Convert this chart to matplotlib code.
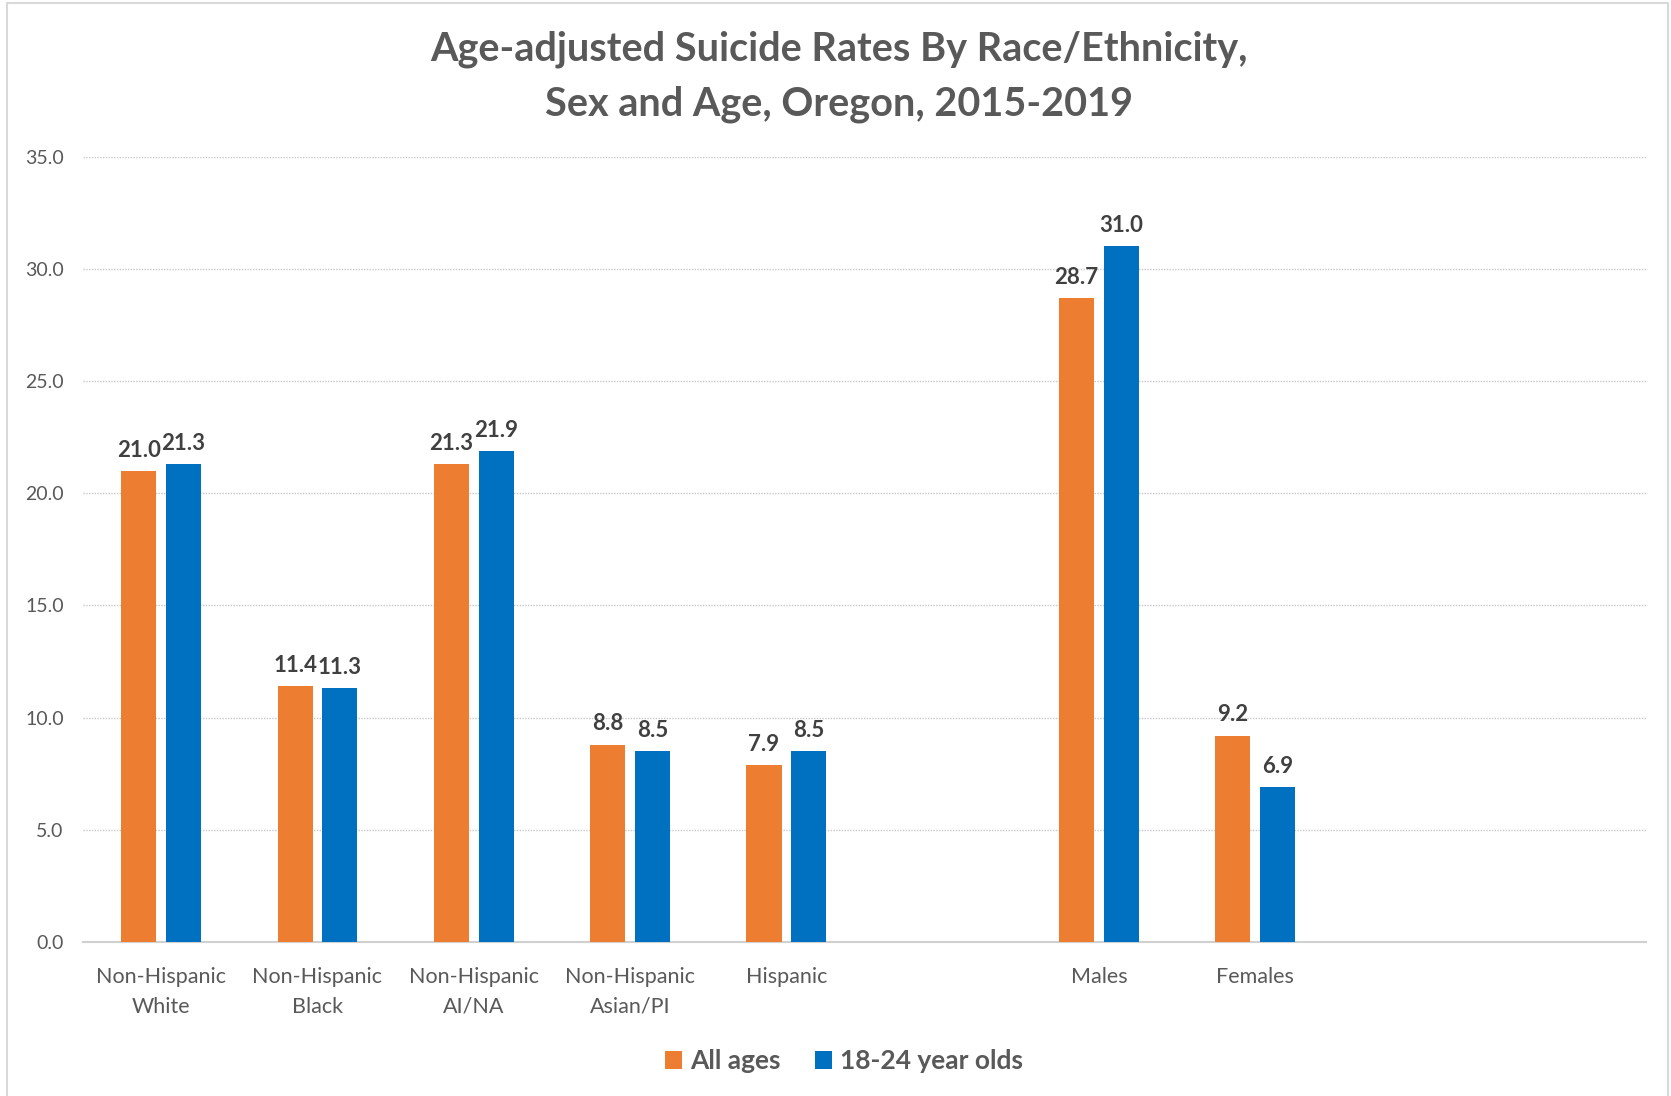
import numpy as np
import matplotlib.pyplot as plt
from matplotlib.patches import Rectangle

plt.rcParams['font.family'] = ['Lato', 'DejaVu Sans']

# categories (blank slots keep the gaps between the groups)
categories = ['Non-Hispanic\nWhite', 'Non-Hispanic\nBlack', 'Non-Hispanic\nAI/NA',
              'Non-Hispanic\nAsian/PI', 'Hispanic', '', 'Males', 'Females', '', '']
all_ages = [21.0, 11.4, 21.3, 8.8, 7.9, None, 28.7, 9.2, None, None]
young = [21.3, 11.3, 21.9, 8.5, 8.5, None, 31.0, 6.9, None, None]

orange = '#ed7d31'
blue = '#0070c0'
grey_txt = '#595959'

fig = plt.figure(figsize=(16.71, 10.96), dpi=100)
ax = fig.add_axes([0.0497, 0.1405, 0.9353, 0.7165])

idx = np.arange(len(categories))
bar_width = 0.225
off = 0.143

def draw(vals, shift, color, label):
    x = [i + shift for i, v in zip(idx, vals) if v is not None]
    y = [v for v in vals if v is not None]
    bars = ax.bar(x, y, bar_width, color=color, label=label, zorder=3)
    for b, v in zip(bars, y):
        ax.text(b.get_x() + b.get_width() / 2, v + 0.45, '%.1f' % v,
                ha='center', va='bottom', fontsize=16, fontweight='bold',
                color='#404040')
    return bars

draw(all_ages, -off, orange, 'All ages')
draw(young, off, blue, '18-24 year olds')

ax.set_xlim(-0.5, 9.5)
ax.set_ylim(0, 35)
ax.set_yticks(np.arange(0, 35.1, 5))
ax.set_yticklabels(['%.1f' % t for t in np.arange(0, 35.1, 5)])
ax.set_xticks(idx)
ax.set_xticklabels(categories)
ax.tick_params(axis='y', length=0, pad=14, labelsize=14, labelcolor=grey_txt)
ax.tick_params(axis='x', length=0, pad=18, labelsize=15.5, labelcolor=grey_txt)
for lbl in ax.get_xticklabels():
    lbl.set_linespacing(1.6)

ax.grid(axis='y', color='#c8c8c8', linestyle=(0, (1, 1)), linewidth=1, zorder=0)
for s in ['top', 'right', 'left']:
    ax.spines[s].set_visible(False)
ax.spines['bottom'].set_color('#d0d0d0')
ax.spines['bottom'].set_linewidth(1.5)

fig.text(0.502, 0.972, 'Age-adjusted Suicide Rates By Race/Ethnicity,\nSex and Age, Oregon, 2015-2019',
         ha='center', va='top', fontsize=28.5, fontweight='bold', color=grey_txt,
         linespacing=1.57)

leg = ax.legend(loc='center', bbox_to_anchor=(0.487, -0.152), ncol=2, frameon=False,
                prop={'size': 19, 'weight': 'bold'}, handlelength=0.65, handleheight=0.65,
                handletextpad=0.3, columnspacing=1.3)
for t in leg.get_texts():
    t.set_color(grey_txt)

# outer chart frame
fig.patches.append(Rectangle((7 / 1671, -0.01), 1661 / 1671, 1 - 3 / 1096 + 0.01,
                             transform=fig.transFigure, fill=False,
                             edgecolor='#d9d9d9', linewidth=1.5))

fig.savefig('out.png', dpi=100)
